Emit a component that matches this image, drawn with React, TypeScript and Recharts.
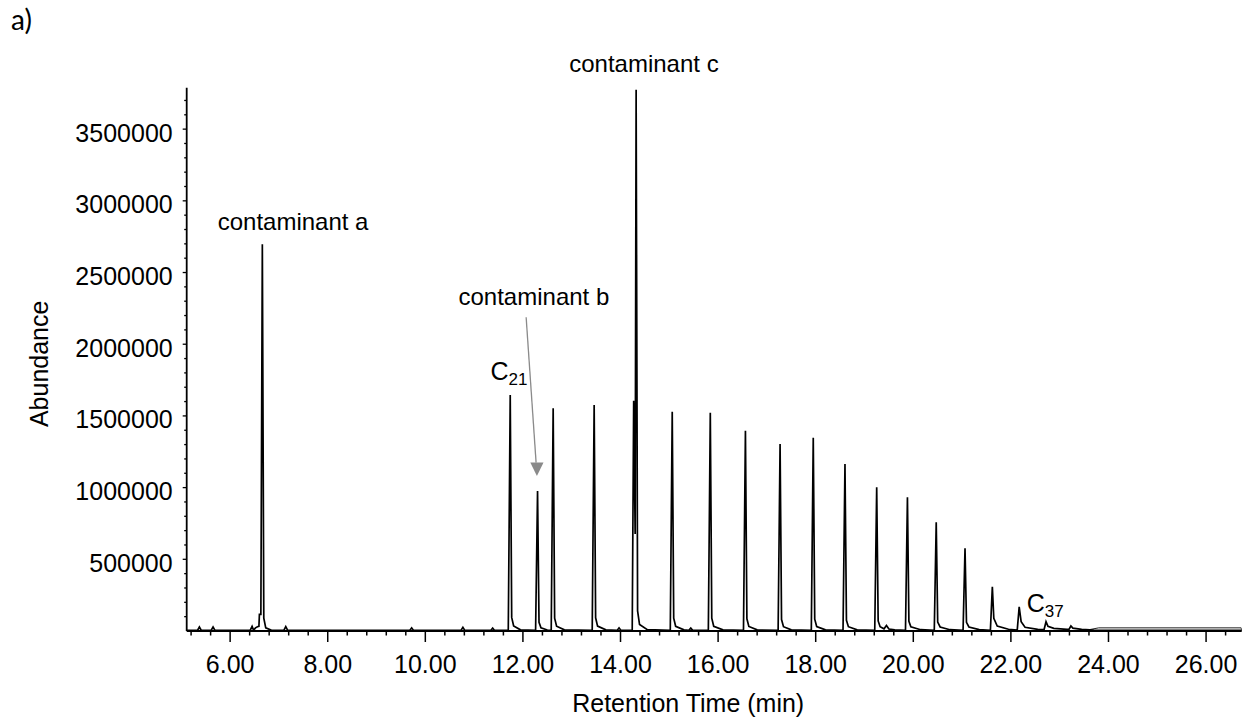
import { Label, Line, LineChart, ReferenceDot, ReferenceLine, XAxis, YAxis } from "recharts";

// [retention time (min), abundance]
const earlySegment: [number, number][] = [
  [5.11, 4000],
  [5.33, 4000], [5.37, 28000], [5.41, 4000],
  [5.61, 4000], [5.65, 28000], [5.69, 4000],
  [6.41, 4000], [6.45, 32000], [6.48, 6000], [6.52, 22000], [6.56, 30000], [6.59, 32000],
  [6.6, 116000], [6.63, 116000], [6.66, 2697000], [6.69, 90000], [6.73, 22000], [6.85, 5000],
  [7.1, 4000], [7.14, 30000], [7.18, 4000],
  [9.68, 4000], [9.72, 22000], [9.76, 4000],
  [10.73, 4000], [10.77, 26000], [10.81, 4000],
  [11.34, 4000], [11.38, 20000], [11.42, 4000],
];

const midSegment: [number, number][] = [
  [11.7, 4000], [11.74, 1646000], [11.77, 95000], [11.81, 35000], [11.95, 8000],
  [12.26, 4000], [12.3, 976000], [12.33, 60000], [12.37, 22000], [12.5, 7000],
  [12.58, 4000], [12.62, 1553000], [12.65, 90000], [12.69, 33000], [12.85, 8000],
  [13.42, 4000], [13.46, 1576000], [13.49, 92000], [13.53, 34000], [13.7, 8000],
  [13.93, 4000], [13.97, 22000], [14.01, 4000],
  [14.24, 4000], [14.27, 1606000], [14.3, 676000], [14.32, 3775000], [14.35, 140000], [14.39, 45000], [14.55, 9000],
  [15.02, 4000], [15.06, 1529000], [15.09, 90000], [15.13, 33000], [15.3, 8000],
  [15.4, 5000], [15.44, 20000], [15.48, 5000],
  [15.8, 4000], [15.84, 1522000], [15.87, 90000], [15.91, 33000], [16.1, 8000],
];

const lateSegment: [number, number][] = [
  [16.52, 4000], [16.56, 1397000], [16.59, 85000], [16.63, 32000], [16.8, 8000],
  [17.23, 4000], [17.27, 1304000], [17.3, 80000], [17.34, 30000], [17.5, 8000],
  [17.91, 4000], [17.95, 1348000], [17.98, 82000], [18.02, 31000], [18.2, 8000],
  [18.56, 4000], [18.6, 1165000], [18.63, 75000], [18.67, 30000], [18.85, 8000],
  [19.21, 4000], [19.25, 1002000], [19.28, 70000], [19.32, 30000], [19.4, 15000], [19.45, 38000], [19.5, 14000], [19.62, 8000],
  [19.84, 4000], [19.88, 932000], [19.91, 68000], [19.95, 30000], [20.15, 9000],
  [20.43, 4000], [20.47, 758000], [20.5, 62000], [20.55, 28000], [20.75, 9000],
  [21.02, 4000], [21.06, 577000], [21.09, 60000], [21.14, 28000], [21.35, 10000],
  [21.58, 5000], [21.62, 309000], [21.65, 88000], [21.72, 35000], [21.95, 12000],
  [22.13, 6000], [22.17, 169000], [22.21, 65000], [22.29, 26000], [22.55, 12000],
  [22.68, 10000], [22.72, 65000], [22.76, 32000], [22.88, 18000], [23.15, 11000],
  [23.19, 11000], [23.23, 35000], [23.27, 20000], [23.45, 12000], [23.7, 6000],
  [26.73, 5000],
];

// second trace line visible at the end of the run
const tailUpper: [number, number][] = [
  [23.6, 9000], [23.8, 22000], [26.72, 22000], [26.73, 5000],
];

const xMajorTicks = [6, 8, 10, 12, 14, 16, 18, 20, 22, 24, 26];
const yMajorTicks = [500000, 1000000, 1500000, 2000000, 2500000, 3000000, 3500000];

const annotationNames = ["contaminant a", "contaminant b", "contaminant c"];
const annotationTimes = [7.29, 12.225, 14.48];
const annotationLevels = [2797000, 2273000, 3900000];

const carbonNumbers = ["21", "37"];
const carbonTimes = [11.335, 22.326];
const carbonLevels = [1750000, 134600];

// arrow pointing at contaminant b
const arrowStart = { x: 12.066, y: 2188000 };
const arrowEnd = { x: 12.27, y: 1174000 };
const arrowTip = { x: 12.287, y: 1081000 };

const toRows = (seg: [number, number][]) => seg.map(([t, a]) => ({ t, a }));
const trace = [...toRows(earlySegment), ...toRows(midSegment), ...toRows(lateSegment)];
const upper = toRows(tailUpper);

const xTicks = Array.from({ length: 54 }, (_, i) => Math.round((5.2 + 0.4 * i) * 10) / 10);
const yTicks = Array.from({ length: 37 }, (_, i) => (i + 1) * 100000);

const font = "'Liberation Sans', Arial, sans-serif";

function XTick({ x, y, payload }: any) {
  const v = payload.value;
  const major = xMajorTicks.some((m) => Math.abs(m - v) < 1e-6);
  return (
    <g>
      <line x1={x} x2={x} y1={y} y2={y + (major ? 11 : 4.5)} stroke="#000" strokeWidth={1.5} />
      {major && (
        <text x={x} y={y + 42} textAnchor="middle" fontSize={25} fontFamily={font} fill="#000">
          {v.toFixed(2)}
        </text>
      )}
    </g>
  );
}

function YTick({ x, y, payload }: any) {
  const v = payload.value;
  const major = yMajorTicks.includes(v);
  return (
    <g>
      <line x1={x - (major ? 4 : 2.5)} x2={x} y1={y} y2={y} stroke="#000" strokeWidth={1.3} />
      {major && (
        <text x={x - 14} y={y + 12.5} textAnchor="end" fontSize={25} fontFamily={font} fill="#000">
          {v}
        </text>
      )}
    </g>
  );
}

export default function App() {
  return (
    <div style={{ position: "absolute", left: 0, top: 0, width: 1251, height: 721, background: "#fff" }}>
      <div
        style={{
          position: "absolute",
          left: 11,
          top: 3,
          fontFamily: "Lato, 'Open Sans', sans-serif",
          fontSize: 28,
          lineHeight: "32px",
          color: "#000",
        }}
      >
        a)
      </div>
      <LineChart width={1251} height={721} margin={{ top: 87.7, right: 9.3, bottom: 0, left: 106.7 }}>
        <XAxis
          type="number"
          dataKey="t"
          domain={[5.11, 26.73]}
          allowDataOverflow
          ticks={xTicks}
          interval={0}
          tick={<XTick />}
          tickLine={false}
          tickSize={0}
          tickMargin={0}
          height={90}
          axisLine={{ stroke: "#000", strokeWidth: 1.8 }}
        >
          <Label
            content={({ viewBox }: any) => (
              <text
                x={viewBox.x + viewBox.width / 2 - 26}
                y={viewBox.y + 81}
                textAnchor="middle"
                fontSize={25}
                fontFamily={font}
                fill="#000"
              >
                Retention Time (min)
              </text>
            )}
          />
        </XAxis>
        <YAxis
          type="number"
          dataKey="a"
          domain={[0, 3789000]}
          allowDataOverflow
          ticks={yTicks}
          interval={0}
          tick={<YTick />}
          tickLine={false}
          tickSize={0}
          tickMargin={0}
          width={80}
          axisLine={{ stroke: "#000", strokeWidth: 1.8 }}
        >
          <Label
            content={({ viewBox }: any) => {
              const cx = viewBox.x - 58.7;
              const cy = viewBox.y + viewBox.height / 2 + 4.5;
              return (
                <text
                  x={cx}
                  y={cy}
                  transform={`rotate(-90, ${cx}, ${cy})`}
                  textAnchor="middle"
                  fontSize={25}
                  fontFamily={font}
                  fill="#000"
                >
                  Abundance
                </text>
              );
            }}
          />
        </YAxis>
        <Line
          data={upper}
          dataKey="a"
          type="linear"
          stroke="#222"
          strokeWidth={1}
          dot={false}
          activeDot={false}
          isAnimationActive={false}
        />
        <Line
          data={trace}
          dataKey="a"
          type="linear"
          stroke="#000"
          strokeWidth={1.7}
          dot={false}
          activeDot={false}
          isAnimationActive={false}
        />
        <ReferenceLine
          segment={[arrowStart, arrowEnd]}
          stroke="#8a8a8a"
          strokeWidth={1.3}
          ifOverflow="visible"
        />
        <ReferenceDot
          x={arrowTip.x}
          y={arrowTip.y}
          r={0}
          ifOverflow="visible"
          shape={(p: any) => (
            <polygon
              points={`${p.cx},${p.cy} ${p.cx - 6.6},${p.cy - 13.5} ${p.cx + 6.6},${p.cy - 13.5}`}
              fill="#8a8a8a"
            />
          )}
        />
        {annotationNames.map((name, i) => (
          <ReferenceDot
            key={name}
            x={annotationTimes[i]}
            y={annotationLevels[i]}
            r={0}
            ifOverflow="visible"
            shape={(p: any) => (
              <text x={p.cx} y={p.cy} textAnchor="middle" fontSize={24} fontFamily={font} fill="#000">
                {name}
              </text>
            )}
          />
        ))}
        {carbonNumbers.map((n, i) => (
          <ReferenceDot
            key={n}
            x={carbonTimes[i]}
            y={carbonLevels[i]}
            r={0}
            ifOverflow="visible"
            shape={(p: any) => (
              <text x={p.cx} y={p.cy} textAnchor="start" fontSize={25} fontFamily={font} fill="#000">
                C
                <tspan fontSize={17} dy={5}>
                  {n}
                </tspan>
              </text>
            )}
          />
        ))}
      </LineChart>
    </div>
  );
}
